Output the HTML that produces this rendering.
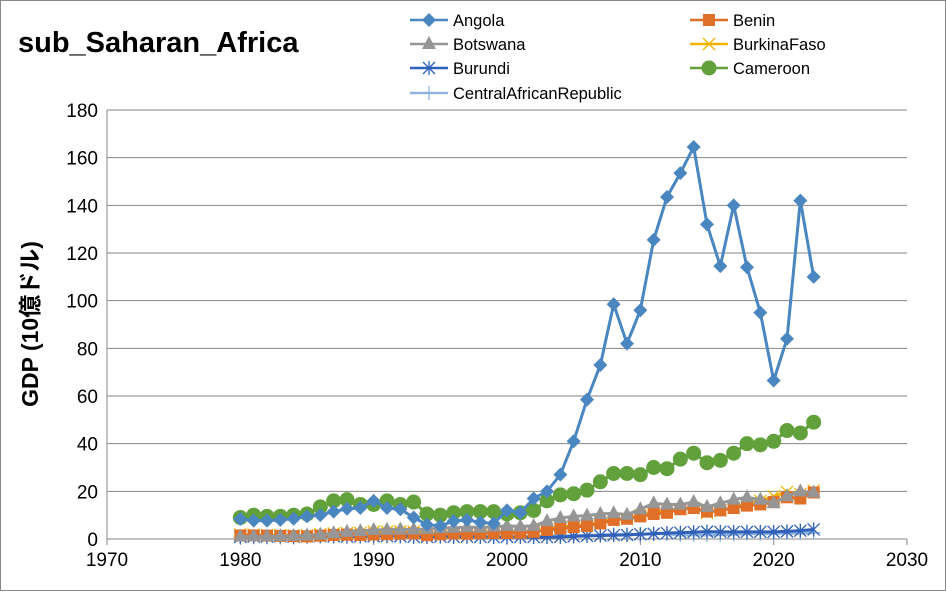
<!DOCTYPE html>
<html><head><meta charset="utf-8"><style>
body{margin:0;background:#fff;}
svg text{font-family:"Liberation Sans","Noto Sans CJK JP",sans-serif;}
</style></head><body>
<svg id="c" width="946" height="591" viewBox="0 0 946 591">
<rect x="0.5" y="0.5" width="945" height="590" fill="#fff" stroke="#888"/>
<text x="18" y="52" font-size="29" font-weight="bold">sub_Saharan_Africa</text>
<text transform="translate(38,324) rotate(-90)" text-anchor="middle" font-size="23" font-weight="bold">GDP (10億ドル)</text>
<g id="grid"></g><g id="series"></g><g id="legend"></g>
</svg>
<script>
const years=[];for(let y=1980;y<=2023;y++)years.push(y);
const xTicks=[1970,1980,1990,2000,2010,2020,2030];
const yTicks=[0,20,40,60,80,100,120,140,160,180];
const angola=[8.4,7.7,7.7,8,8.5,9.5,10,11.5,12.7,13,16,13,12.5,9,6,5.5,7.5,8,7,6.5,12,11,17,20,27,41,58.5,73,98.5,82,96,125.5,143.5,153.5,164.5,132,114.5,140,114,95,66.5,84,142,110];
const cameroon=[9,10,9.5,9.5,10,10.5,13.5,16,16.5,14.5,14.5,16,14.5,15.5,10.5,10,11,11.5,11.5,11.5,10.5,11,12,16,18.5,19,20.5,24,27.5,27.5,27,30,29.5,33.5,36,32,33,36,40,39.5,41,45.5,44.5,49];
const botswana=[1,1.1,1.1,1.2,1.3,1.5,1.8,2.4,3,3.3,3.8,3.9,4,4,4.2,4.5,4.7,5,4.8,5.2,5.5,5.3,5.5,7.5,8.8,9.5,9.8,10.5,10.8,10.2,12.5,15,14.5,14.5,15.5,13.5,15,16.5,17.5,16.5,15,18,20,19.5];
const benin=[1.5,1.5,1.4,1.3,1.2,1.1,1.4,1.7,1.8,1.7,1.9,2,2.2,2.3,1.6,2,2.3,2.2,2.4,2.5,2.5,2.6,3,3.8,4.4,5,5.5,6.5,8,8.5,9.5,10.5,11,12.5,13,11.5,12,13,14,14.5,15.5,17.5,17,19.5];
const burkina=[1.9,1.8,1.7,1.6,1.5,1.6,2,2.3,2.5,2.6,3.1,3.1,3.2,3.1,2.2,2.6,2.8,2.7,3,2.9,2.9,3.1,3.4,4.3,5,5.5,6,7,8.5,8.5,10,11.5,12,12.5,13,11,12,13,15,16,17.9,19.7,18.8,20.3];
const burundi=[0.9,1,1,1.1,1,1.1,1.2,1.1,1,1.1,1.1,1.2,1.1,0.9,0.9,1,0.9,1,0.9,0.8,0.9,0.9,0.8,0.8,0.9,1.1,1.3,1.4,1.6,1.7,2,2.2,2.5,2.7,2.9,3.1,3,3,3,3,3,3.2,3.5,4];
const car=[0.8,0.7,0.7,0.6,0.6,0.9,1.1,1.1,1.1,1.1,1.4,1.3,1.4,1.2,0.9,1.1,1,0.9,1,1,0.9,0.9,1,1.1,1.3,1.4,1.5,1.7,2,2,2,2.2,2.2,1.6,1.8,1.7,1.8,2,2.2,2.2,2.3,2.5,2.4,2.6];
const X=v=>107+(v-1970)*800/60, Y=v=>539-v*429/180;
const NS="http://www.w3.org/2000/svg";
function mk(p,t,a){const e=document.createElementNS(NS,t);for(const k in a)e.setAttribute(k,a[k]);p.appendChild(e);return e;}
const grid=document.getElementById('grid');
yTicks.forEach(v=>{
 if(v>0){const l=mk(grid,'line',{x1:107,x2:907,y1:Y(v),y2:Y(v),stroke:'#868686','stroke-width':1});
 
 }
 const t=mk(grid,'text',{x:98,y:Y(v)+7,'text-anchor':'end','font-size':19});t.textContent=v;
 
 
});
const ax=mk(grid,'line',{x1:107,x2:907,y1:539,y2:539,stroke:'#868686'});


const ay=mk(grid,'line',{x1:107,x2:107,y1:110,y2:539,stroke:'#868686'});


xTicks.forEach(v=>{
 mk(grid,'line',{x1:X(v),x2:X(v),y1:539,y2:545,stroke:'#868686'});
 const t=mk(grid,'text',{x:X(v),y:566,'text-anchor':'middle','font-size':19});t.textContent=v;
 
 
});
function marker(g,type,x,y,col){
 if(type==='diamond')mk(g,'path',{d:`M${x} ${y-7}L${x+7} ${y}L${x} ${y+7}L${x-7} ${y}Z`,fill:col});
 else if(type==='square')mk(g,'rect',{x:x-6,y:y-6,width:12,height:12,fill:col});
 else if(type==='tri')mk(g,'path',{d:`M${x} ${y-8}L${x+7} ${y+5}L${x-7} ${y+5}Z`,fill:col});
 else if(type==='x')mk(g,'path',{d:`M${x-6} ${y-6}L${x+6} ${y+6}M${x+6} ${y-6}L${x-6} ${y+6}`,stroke:col,'stroke-width':1.3});
 else if(type==='star')mk(g,'path',{d:`M${x-6} ${y-6}L${x+6} ${y+6}M${x+6} ${y-6}L${x-6} ${y+6}M${x} ${y-7}L${x} ${y+7}`,stroke:col,'stroke-width':1.3});
 else if(type==='circle')mk(g,'circle',{cx:x,cy:y,r:7.5,fill:col});
 else if(type==='plus')mk(g,'path',{d:`M${x-7} ${y}L${x+7} ${y}M${x} ${y-7}L${x} ${y+7}`,stroke:col,'stroke-width':1.3});
}
const series=[
 {n:'Angola',d:angola,c:'#4a86c0',m:'diamond',lx:410,ly:20},
 {n:'Benin',d:benin,c:'#e07028',m:'square',lx:690,ly:20},
 {n:'Botswana',d:botswana,c:'#969696',m:'tri',lx:410,ly:44},
 {n:'BurkinaFaso',d:burkina,c:'#f0b400',m:'x',lx:690,ly:44},
 {n:'Burundi',d:burundi,c:'#3060b8',m:'star',lx:410,ly:68},
 {n:'Cameroon',d:cameroon,c:'#62a03c',m:'circle',lx:690,ly:68},
 {n:'CentralAfricanRepublic',d:car,c:'#90b4e0',m:'plus',lx:410,ly:93}
];
const sg=document.getElementById('series'),lg=document.getElementById('legend');
[6,4,3,1,2,5,0].forEach(i=>{
 const s=series[i];
 const g=mk(sg,'g',{});
 
 
 mk(g,'polyline',{points:s.d.map((v,j)=>X(years[j])+','+Y(v)).join(' '),fill:'none',stroke:s.c,'stroke-width':3});
 s.d.forEach((v,j)=>marker(g,s.m,X(years[j]),Y(v),s.c));
});
series.forEach(s=>{
 const g=mk(lg,'g',{});
 
 
 mk(g,'line',{x1:s.lx,x2:s.lx+38,y1:s.ly,y2:s.ly,stroke:s.c,'stroke-width':2.5});
 marker(g,s.m,s.lx+19,s.ly,s.c);
 const t=mk(g,'text',{x:s.lx+43,y:s.ly+6,'font-size':16.5});t.textContent=s.n;
});
</script>
</body></html>
